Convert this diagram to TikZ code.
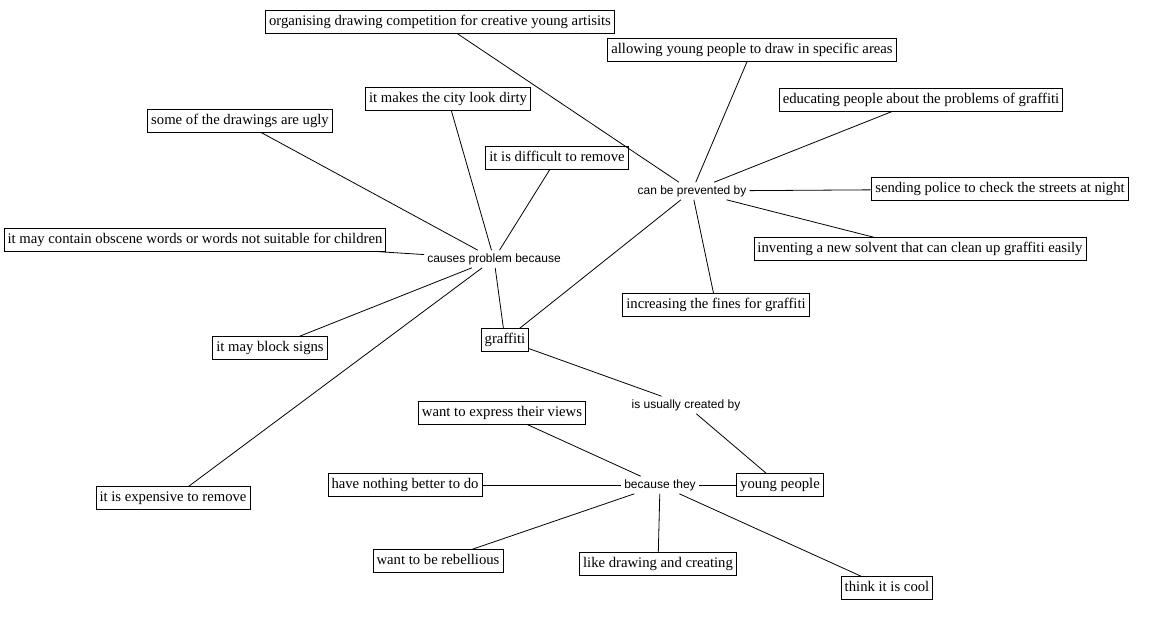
\documentclass[tikz,border=0pt]{standalone}
\usepackage{fontspec}
\newfontfamily\boxfont{Liberation Serif}
\newfontfamily\linkfont{Liberation Sans}
\begin{document}
\begin{tikzpicture}[x=1pt,y=-1pt,
  box/.style={draw, line width=0.8pt, font=\boxfont\fontsize{14.7}{16}\selectfont, inner xsep=3.5pt, inner ysep=4.5pt, text height=10.5pt, text depth=3pt},
  lbl/.style={font=\linkfont\fontsize{12}{14}\selectfont, inner sep=3pt},
  conn/.style={draw, line width=0.8pt}]
\fill[white] (0,0) rectangle (1172,638);
\useasboundingbox (0,0) rectangle (1172,638);
% prevention branch
\node[box] (org) at (440,22) {organising drawing competition for creative young artisits};
\node[box] (allow) at (752,50) {allowing young people to draw in specific areas};
\node[box] (edu) at (921,100) {educating people about the problems of graffiti};
\node[box] (police) at (1000,189) {sending police to check the streets at night};
\node[box] (solvent) at (920,249) {inventing a new solvent that can clean up graffiti easily};
\node[box] (fines) at (716,305) {increasing the fines for graffiti};
\node[lbl] (prev) at (692,191) {can be prevented by};
% problem branch
\node[box] (dirty) at (448,99) {it makes the city look dirty};
\node[box] (ugly) at (240,121) {some of the drawings are ugly};
\node[box] (diff) at (557,158) {it is difficult to remove};
\node[box] (obscene) at (195,240) {it may contain obscene words or words not suitable for children};
\node[lbl] (causes) at (494,259) {causes problem because};
\node[box] (block) at (270,348) {it may block signs};
\node[box] (expensive) at (173,498) {it is expensive to remove};
\node[box] (graffiti) at (505,340) {graffiti};
% creators branch
\node[lbl] (created) at (686,405) {is usually created by};
\node[box] (young) at (780,485) {young people};
\node[lbl] (because) at (660,485) {because they};
\node[box] (express) at (502,413) {want to express their views};
\node[box] (nothing) at (405,485) {have nothing better to do};
\node[box] (rebel) at (438,561) {want to be rebellious};
\node[box] (like) at (658,564) {like drawing and creating};
\node[box] (cool) at (887,588) {think it is cool};
% connectors
\draw[conn] (org) -- (prev);
\draw[conn] (allow) -- (prev);
\draw[conn] (edu) -- (prev);
\draw[conn] (prev) -- (police);
\draw[conn] (prev) -- (solvent);
\draw[conn] (prev) -- (fines);
\draw[conn] (prev) -- (graffiti);
\draw[conn] (graffiti) -- (causes);
\draw[conn] (dirty) -- (causes);
\draw[conn] (ugly) -- (causes);
\draw[conn] (diff) -- (causes);
\draw[conn] (obscene) -- (causes);
\draw[conn] (causes) -- (block);
\draw[conn] (causes) -- (expensive);
\draw[conn] (graffiti) -- (created);
\draw[conn] (created) -- (young);
\draw[conn] (young) -- (because);
\draw[conn] (because) -- (nothing);
\draw[conn] (express) -- (because);
\draw[conn] (because) -- (rebel);
\draw[conn] (because) -- (like);
\draw[conn] (because) -- (cool);
\end{tikzpicture}
\end{document}
